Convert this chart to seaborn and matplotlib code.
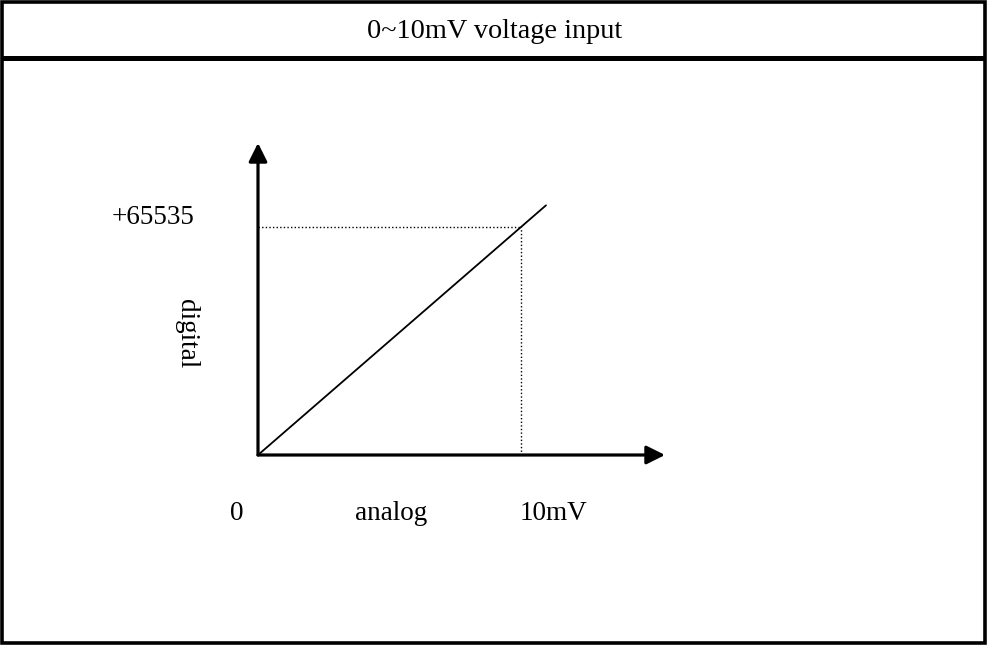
import matplotlib
matplotlib.use("Agg")
import matplotlib.pyplot as plt
import seaborn as sns
import pandas as pd
from matplotlib.patches import Rectangle
from matplotlib.lines import Line2D

# Transfer characteristic of a 0~10mV input channel
line_mv = [0.0, 10.95]
line_digital = [0, 71760]
full_scale_mv = 10
full_scale_digital = 65535

title_text = "0~10mV voltage input"
y_label = "digital"
x_label = "analog"
x_ticks = ["0", "10mV"]
y_tick = "+65535"

sns.set_theme(style="white")
plt.rcParams["font.family"] = ["Liberation Serif", "DejaVu Serif"]
plt.rcParams["text.color"] = "black"

W, H = 988, 645
fig = plt.figure(figsize=(W / 100, H / 100), dpi=100)
fig.patch.set_facecolor("white")

# pixel helpers for figure-level placement
def fx(px):
    return px / W

def fy(py):
    return 1 - py / H

# frame and header separator
fig.add_artist(Rectangle((fx(2), fy(643)), fx(983), 641 / H, transform=fig.transFigure,
                         fill=False, lw=2.6, edgecolor="black"))
fig.add_artist(Line2D([fx(2), fx(985)], [fy(57.5), fy(57.5)], transform=fig.transFigure,
                      lw=3.6, color="black", solid_capstyle="butt"))
fig.text(fx(495), fy(31.5), title_text, ha="center", va="center", fontsize=20.3, color="black")

# diagram axes: origin at (258, 455), arrow tips at x=665 and y=143
x0, y0, x1, y1 = 258, 455, 665, 143
ax = fig.add_axes([fx(x0), fy(y0), (x1 - x0) / W, (y0 - y1) / H])
ax.set_facecolor("none")
px_per_mv = 26.3
px_per_digit = 228 / full_scale_digital
ax.set_xlim(0, (x1 - x0) / px_per_mv)
ax.set_ylim(0, (y0 - y1) / px_per_digit)
for s in ax.spines.values():
    s.set_visible(False)
ax.set_xticks([])
ax.set_yticks([])

df = pd.DataFrame({"mv": line_mv, "digital": line_digital})
sns.lineplot(data=df, x="mv", y="digital", ax=ax, color="black", lw=1.3)
ax.set_xlabel("")
ax.set_ylabel("")

# dotted guides to the full-scale point
dot = (0, (1, 1.6))
ax.hlines(full_scale_digital, 0, full_scale_mv, colors="black", lw=1.0, linestyles=[dot])
ax.vlines(full_scale_mv, 0, full_scale_digital, colors="black", lw=1.0, linestyles=[dot])

# axis arrows
arrow = dict(arrowstyle="-|>,head_length=0.4,head_width=0.2", lw=2.3, color="black",
             mutation_scale=28, shrinkA=0, shrinkB=0)
ax.annotate("", xy=(1, 0), xytext=(0, 0), xycoords="axes fraction", arrowprops=arrow,
            annotation_clip=False)
ax.annotate("", xy=(0, 1), xytext=(0, 0), xycoords="axes fraction", arrowprops=arrow,
            annotation_clip=False)

# labels
fs = 19.5
fig.text(fx(194), fy(218), y_tick, ha="right", va="center", fontsize=fs, color="black")
fig.text(fx(186), fy(334), y_label, ha="center", va="center", rotation=-90, fontsize=fs,
         color="black")
fig.text(fx(237), fy(514), x_ticks[0], ha="center", va="center", fontsize=fs, color="black")
fig.text(fx(391), fy(514), x_label, ha="center", va="center", fontsize=fs, color="black")
fig.text(fx(553), fy(514), x_ticks[1], ha="center", va="center", fontsize=fs, color="black")

fig.savefig("out.png", dpi=100, facecolor="white")
